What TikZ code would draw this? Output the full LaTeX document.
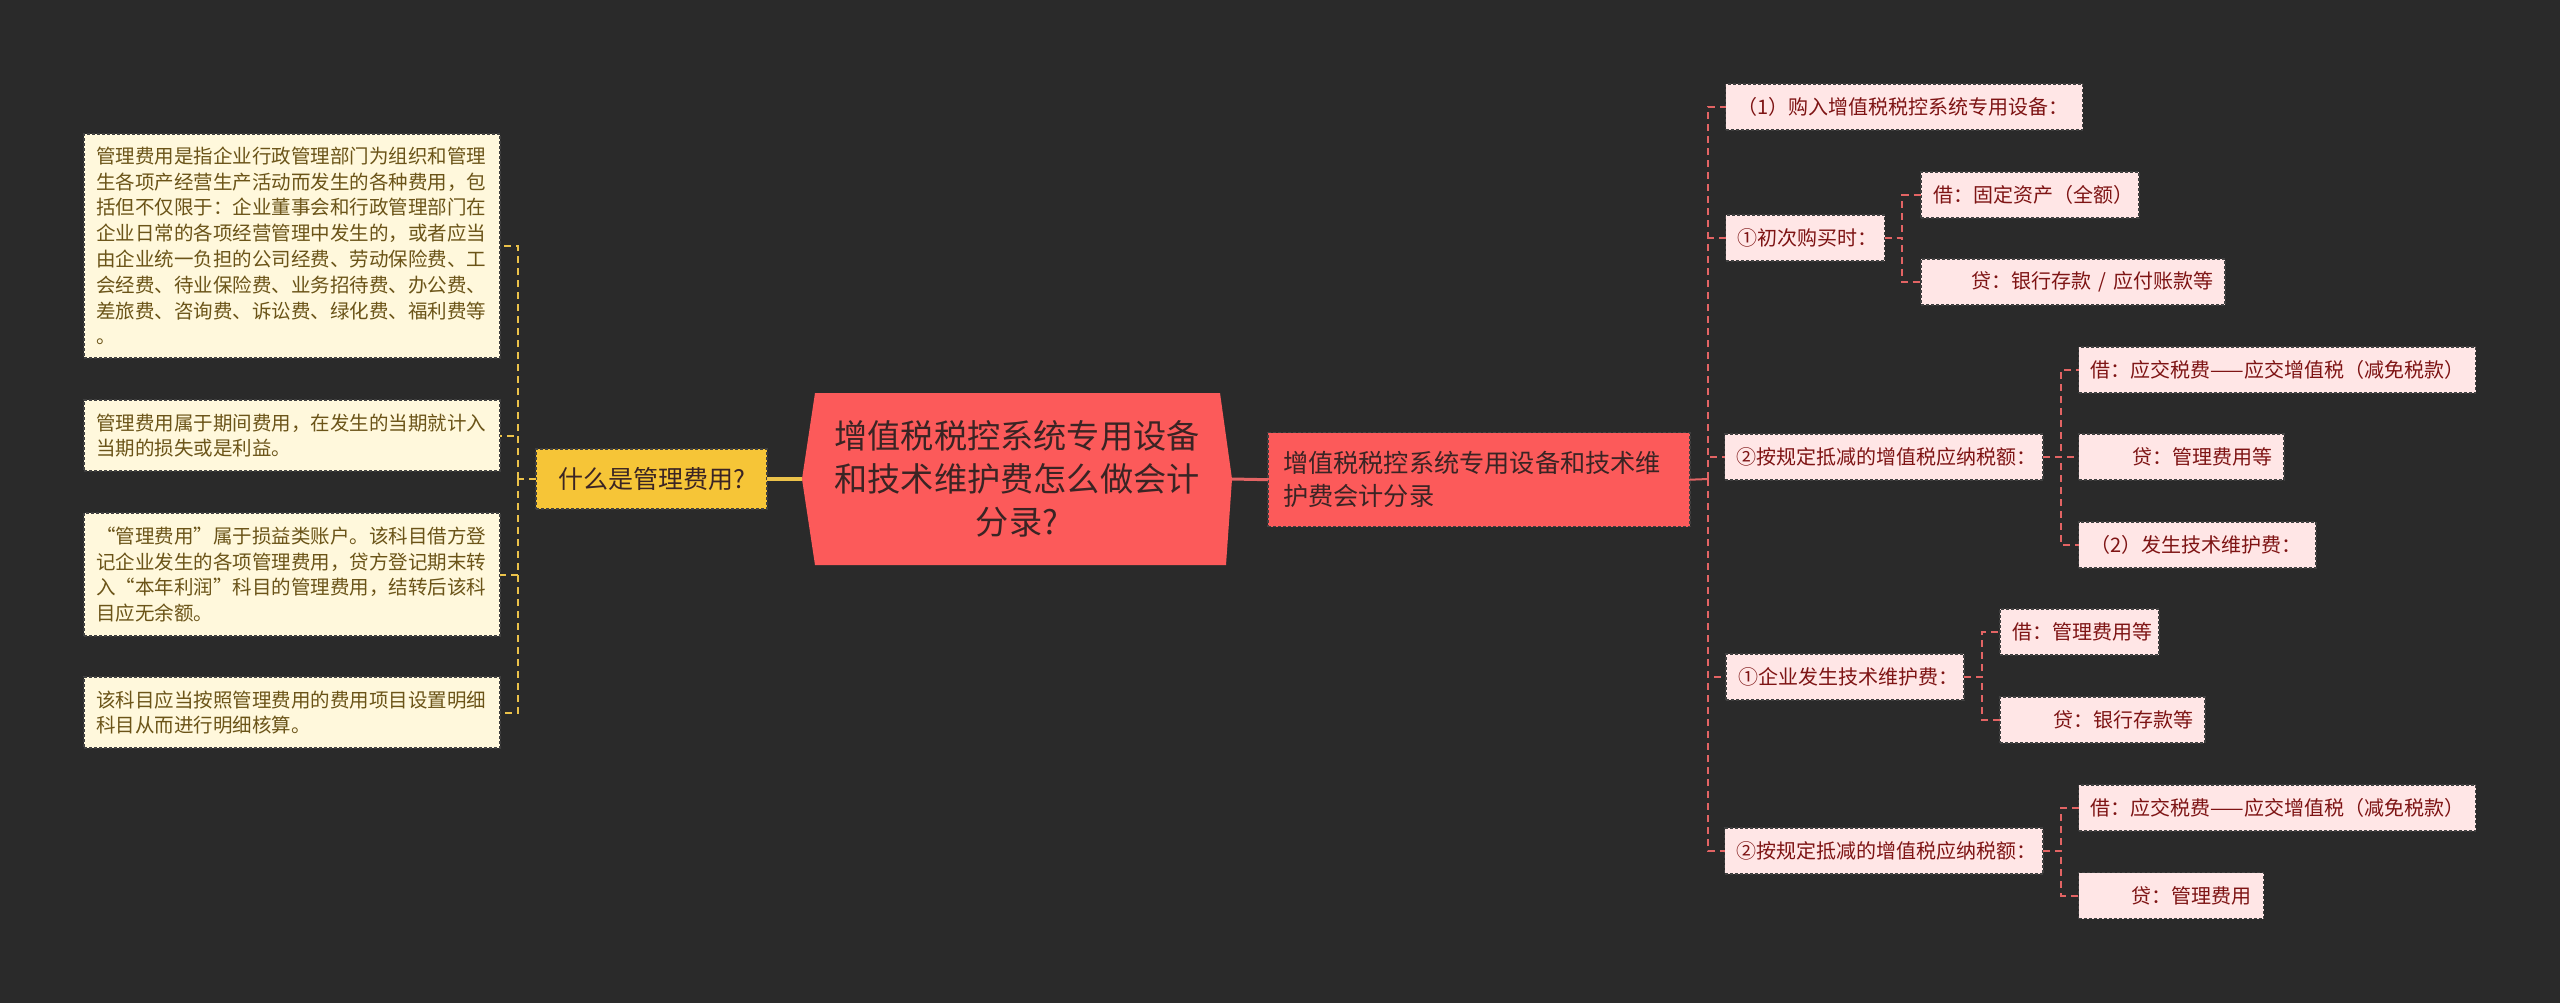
\documentclass[tikz,border=0pt]{standalone}
\usepackage{fontspec}
\setmainfont{Noto Sans CJK SC}
\definecolor{bgc}{HTML}{2A2A2A}
\definecolor{creamfill}{HTML}{FFF8DC}
\definecolor{creamtext}{HTML}{6B5418}
\definecolor{yfill}{HTML}{F6C537}
\definecolor{ylinec}{HTML}{EBC24A}
\definecolor{cred}{HTML}{FC5A5A}
\definecolor{ctextc}{HTML}{3A2424}
\definecolor{pinkfill}{HTML}{FFE6E6}
\definecolor{pinktext}{HTML}{7E1414}
\definecolor{rlinec}{HTML}{E36464}
\definecolor{bord}{HTML}{404040}
\pgfdeclarelayer{bglayer}
\pgfsetlayers{bglayer,main}
\begin{document}
\begin{tikzpicture}[x=0.5pt,y=-0.5pt,
  boxborder/.style={draw=bord, dash pattern=on 1.5pt off 1pt, line width=0.6pt},
  leftbox/.style={boxborder, fill=creamfill, text=creamtext,
    font=\fontsize{9.75pt}{12.9pt}\selectfont, align=left, text width=196pt,
    inner xsep=6pt, inner ysep=0pt, anchor=west, outer sep=0pt},
  leaf/.style={boxborder, fill=pinkfill, text=pinktext,
    font=\fontsize{10pt}{11.5pt}\selectfont, inner xsep=6pt, inner ysep=0pt,
    minimum height=23pt, align=left, anchor=west, outer sep=0pt},
  leafr/.style={leaf, align=right},
  ynode/.style={boxborder, draw=bord, fill=yfill, text=ctextc,
    font=\fontsize{12.5pt}{15pt}\selectfont, minimum width=115.5pt,
    minimum height=30pt, inner sep=0pt, outer sep=0pt},
  cnode/.style={text=ctextc, font=\fontsize{16.6pt}{21.5pt}\selectfont,
    align=center, minimum width=215pt, minimum height=86pt, inner sep=0pt, outer sep=0pt},
  mnode/.style={boxborder, draw=bord, fill=cred, text=ctextc,
    font=\fontsize{12.6pt}{16.5pt}\selectfont, align=left, text width=196pt,
    inner xsep=7.5pt, inner ysep=0pt, minimum height=47pt, anchor=west, outer sep=0pt},
  ldash/.style={draw=ylinec, line width=1pt, dash pattern=on 3.5pt off 2.5pt},
  rdash/.style={draw=rlinec, line width=1pt, dash pattern=on 3.5pt off 2.5pt},
  ysolid/.style={draw=ylinec, line width=2pt},
  rsolid/.style={draw=rlinec, line width=1.5pt}
]
\useasboundingbox (0,0) rectangle (2560,1003);

% central node
\node[cnode] (C) at (1017,479) {增值税税控系统专用设备\\和技术维护费怎么做会计\\分录?};
\begin{pgfonlayer}{bglayer}
\fill[bgc] (0,0) rectangle (2560,1003);
\fill[cred] ([xshift=6.5pt]C.north west) -- ([xshift=-6pt]C.north east) -- (C.east)
  -- ([xshift=-3pt]C.south east) -- ([xshift=6.5pt]C.south west) -- (C.west) -- cycle;
\end{pgfonlayer}

% left side
\node[ynode] (Y) at (651.5,479) {什么是管理费用?};
\node[leftbox, minimum height=112pt] (L1) at (84,246) {管理费用是指企业行政管理部门为组织和管理\\生各项产经营生产活动而发生的各种费用，包\\括但不仅限于：企业董事会和行政管理部门在\\企业日常的各项经营管理中发生的，或者应当\\由企业统一负担的公司经费、劳动保险费、工\\会经费、待业保险费、业务招待费、办公费、\\差旅费、咨询费、诉讼费、绿化费、福利费等\\。};
\node[leftbox, minimum height=35.5pt] (L2) at (84,435.5) {管理费用属于期间费用，在发生的当期就计入\\当期的损失或是利益。};
\node[leftbox, minimum height=61.5pt] (L3) at (84,574.5) {“管理费用”属于损益类账户。该科目借方登\\记企业发生的各项管理费用，贷方登记期末转\\入“本年利润”科目的管理费用，结转后该科\\目应无余额。};
\node[leftbox, minimum height=35.5pt] (L4) at (84,712.5) {该科目应当按照管理费用的费用项目设置明细\\科目从而进行明细核算。};

\coordinate (lj) at (518,479);
\draw[ysolid] (Y.east) -- (C.west);
\draw[ldash] (Y.west) -- (lj);
\draw[ldash] (lj) |- (L1.east);
\draw[ldash] (lj) |- (L2.east);
\draw[ldash] (lj) |- (L3.east);
\draw[ldash] (lj) |- (L4.east);

% right side
\node[mnode] (M) at (1268,479.7) {增值税税控系统专用设备和技术维\\护费会计分录};
\draw[rsolid] (C.east) -- (M.west);

\node[leaf, text width=166.5pt] (n1) at (1725.5,107) {\mbox{（1）购入增值税税控系统专用设备：}};
\node[leaf, text width=67.5pt] (n2) at (1725.5,238) {\mbox{①初次购买时：}};
\node[leaf, text width=147.25pt] (n3) at (1724.5,457) {\mbox{②按规定抵减的增值税应纳税额：}};
\node[leaf, text width=107pt] (n4) at (1726,677) {\mbox{①企业发生技术维护费：}};
\node[leaf, text width=147.25pt] (n5) at (1724.5,851) {\mbox{②按规定抵减的增值税应纳税额：}};

\node[leaf, text width=97pt] (a1) at (1921,195) {\mbox{借：固定资产（全额）}};
\node[leafr, text width=140pt] (a2) at (1921,282) {\mbox{贷：银行存款 / 应付账款等}};
\node[leaf, text width=186.5pt] (b1) at (2078.6,370) {\mbox{借：应交税费——应交增值税（减免税款）}};
\node[leafr, text width=90.7pt] (b2) at (2078.6,457) {\mbox{贷：管理费用等}};
\node[leaf, text width=106.7pt] (b3) at (2078.6,545) {\mbox{（2）发生技术维护费：}};
\node[leaf, text width=67.5pt] (c1) at (2000,632) {\mbox{借：管理费用等}};
\node[leafr, text width=90.5pt] (c2) at (2000,720) {\mbox{贷：银行存款等}};
\node[leaf, text width=186.5pt] (d1) at (2078.6,808) {\mbox{借：应交税费——应交增值税（减免税款）}};
\node[leafr, text width=80.6pt] (d2) at (2078.6,895.5) {\mbox{贷：管理费用}};

\coordinate (rj) at (1708,479);
\draw[rsolid, line width=1pt] (M.east) -- (rj);
\foreach \n in {n1,n2,n3,n4,n5} \draw[rdash] (rj) |- (\n.west);
\foreach \n in {a1,a2} \draw[rdash] (n2.east) -- ++(17.5,0) |- (\n.west);
\foreach \n in {b1,b2,b3} \draw[rdash] (n3.east) -- ++(18,0) |- (\n.west);
\foreach \n in {c1,c2} \draw[rdash] (n4.east) -- ++(18,0) |- (\n.west);
\foreach \n in {d1,d2} \draw[rdash] (n5.east) -- ++(18,0) |- (\n.west);
\end{tikzpicture}
\end{document}
